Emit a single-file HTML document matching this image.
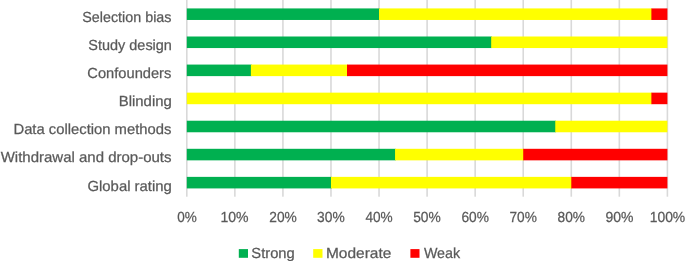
<!DOCTYPE html>
<html><head><meta charset="utf-8"><style>
html,body{margin:0;padding:0;background:#fff;width:685px;height:261px;overflow:hidden}
svg{display:block;will-change:transform}
text{text-rendering:geometricPrecision;font-family:"Liberation Sans",sans-serif;font-size:14.6px;fill:#595959;stroke:#595959;stroke-width:0.25px}
</style></head><body>
<svg width="685" height="261" viewBox="0 0 685 261">
<rect x="186.00" y="-0.3" width="1.6" height="197" fill="#D9D9D9"/>
<rect x="234.06" y="-0.3" width="1.6" height="197" fill="#D9D9D9"/>
<rect x="282.12" y="-0.3" width="1.6" height="197" fill="#D9D9D9"/>
<rect x="330.18" y="-0.3" width="1.6" height="197" fill="#D9D9D9"/>
<rect x="378.24" y="-0.3" width="1.6" height="197" fill="#D9D9D9"/>
<rect x="426.30" y="-0.3" width="1.6" height="197" fill="#D9D9D9"/>
<rect x="474.36" y="-0.3" width="1.6" height="197" fill="#D9D9D9"/>
<rect x="522.42" y="-0.3" width="1.6" height="197" fill="#D9D9D9"/>
<rect x="570.48" y="-0.3" width="1.6" height="197" fill="#D9D9D9"/>
<rect x="618.54" y="-0.3" width="1.6" height="197" fill="#D9D9D9"/>
<rect x="666.60" y="-0.3" width="1.6" height="197" fill="#D9D9D9"/>
<rect x="186.80" y="8.42" width="193.04" height="11.55" fill="#00B050"/>
<rect x="379.04" y="8.42" width="273.14" height="11.55" fill="#FFFF00"/>
<rect x="651.38" y="8.42" width="16.02" height="11.55" fill="#FF0000"/>
<rect x="186.80" y="36.50" width="305.18" height="11.55" fill="#00B050"/>
<rect x="491.18" y="36.50" width="176.22" height="11.55" fill="#FFFF00"/>
<rect x="186.80" y="64.57" width="64.88" height="11.55" fill="#00B050"/>
<rect x="250.88" y="64.57" width="96.92" height="11.55" fill="#FFFF00"/>
<rect x="347.00" y="64.57" width="320.40" height="11.55" fill="#FF0000"/>
<rect x="186.80" y="92.65" width="465.38" height="11.55" fill="#FFFF00"/>
<rect x="651.38" y="92.65" width="16.02" height="11.55" fill="#FF0000"/>
<rect x="186.80" y="120.72" width="369.26" height="11.55" fill="#00B050"/>
<rect x="555.26" y="120.72" width="112.14" height="11.55" fill="#FFFF00"/>
<rect x="186.80" y="148.80" width="209.06" height="11.55" fill="#00B050"/>
<rect x="395.06" y="148.80" width="128.96" height="11.55" fill="#FFFF00"/>
<rect x="523.22" y="148.80" width="144.18" height="11.55" fill="#FF0000"/>
<rect x="186.80" y="176.87" width="144.98" height="11.55" fill="#00B050"/>
<rect x="330.98" y="176.87" width="241.10" height="11.55" fill="#FFFF00"/>
<rect x="571.28" y="176.87" width="96.12" height="11.55" fill="#FF0000"/>
<rect x="238.8" y="249.1" width="9.2" height="8.7" fill="#00B050"/>
<rect x="313.2" y="249.1" width="9.3" height="8.7" fill="#FFFF00"/>
<rect x="410.4" y="249.1" width="9.1" height="8.7" fill="#FF0000"/>
<text x="171.49" y="22.00" text-anchor="end" textLength="89.23" lengthAdjust="spacingAndGlyphs">Selection bias</text>
<text x="171.90" y="49.76" text-anchor="end" textLength="83.54" lengthAdjust="spacingAndGlyphs">Study design</text>
<text x="171.36" y="78.12" text-anchor="end" textLength="83.99" lengthAdjust="spacingAndGlyphs">Confounders</text>
<text x="171.80" y="106.38" text-anchor="end" textLength="52.99" lengthAdjust="spacingAndGlyphs">Blinding</text>
<text x="171.31" y="134.44" text-anchor="end" textLength="157.84" lengthAdjust="spacingAndGlyphs">Data collection methods</text>
<text x="171.53" y="162.30" text-anchor="end" textLength="170.83" lengthAdjust="spacingAndGlyphs">Withdrawal and drop-outs</text>
<text x="171.80" y="190.86" text-anchor="end" textLength="84.33" lengthAdjust="spacingAndGlyphs">Global rating</text>
<text x="186.90" y="221.65" text-anchor="middle" textLength="19.54" lengthAdjust="spacingAndGlyphs">0%</text>
<text x="234.47" y="221.65" text-anchor="middle" textLength="28.14" lengthAdjust="spacingAndGlyphs">10%</text>
<text x="283.03" y="221.65" text-anchor="middle" textLength="27.60" lengthAdjust="spacingAndGlyphs">20%</text>
<text x="330.92" y="221.65" text-anchor="middle" textLength="27.62" lengthAdjust="spacingAndGlyphs">30%</text>
<text x="379.07" y="221.65" text-anchor="middle" textLength="27.28" lengthAdjust="spacingAndGlyphs">40%</text>
<text x="426.94" y="221.65" text-anchor="middle" textLength="27.60" lengthAdjust="spacingAndGlyphs">50%</text>
<text x="475.14" y="221.65" text-anchor="middle" textLength="27.47" lengthAdjust="spacingAndGlyphs">60%</text>
<text x="523.15" y="221.65" text-anchor="middle" textLength="27.39" lengthAdjust="spacingAndGlyphs">70%</text>
<text x="571.26" y="221.65" text-anchor="middle" textLength="27.39" lengthAdjust="spacingAndGlyphs">80%</text>
<text x="619.46" y="221.65" text-anchor="middle" textLength="28.00" lengthAdjust="spacingAndGlyphs">90%</text>
<text x="667.45" y="221.65" text-anchor="middle" textLength="35.55" lengthAdjust="spacingAndGlyphs">100%</text>
<text x="251.38" y="257.90" textLength="43.33" lengthAdjust="spacingAndGlyphs">Strong</text>
<text x="325.96" y="257.90" textLength="65.38" lengthAdjust="spacingAndGlyphs">Moderate</text>
<text x="423.89" y="257.90" textLength="36.33" lengthAdjust="spacingAndGlyphs">Weak</text>
</svg>
</body></html>
